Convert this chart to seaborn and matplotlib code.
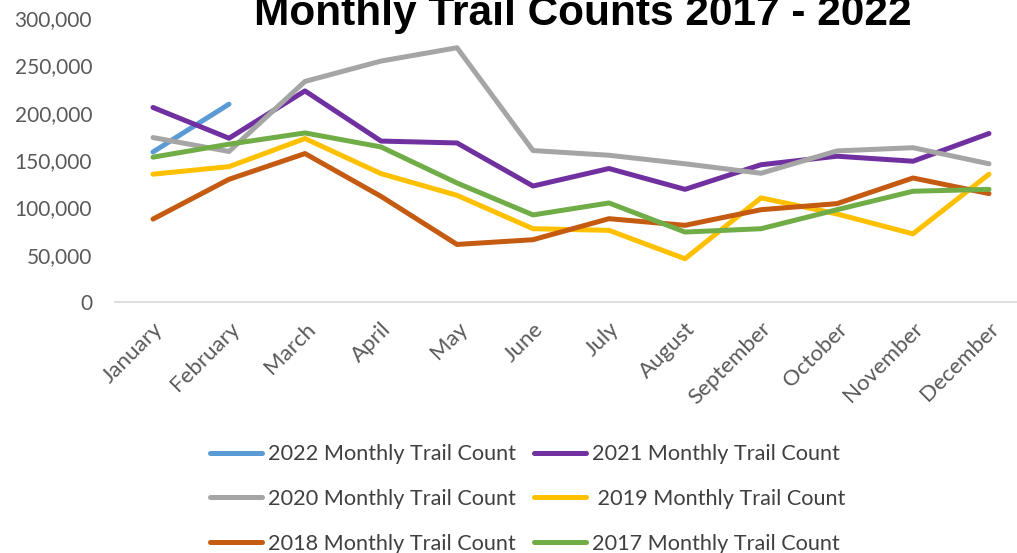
import pandas as pd
import seaborn as sns
import matplotlib.pyplot as plt
from matplotlib.ticker import FuncFormatter

# ------------ data ------------
months = ["January", "February", "March", "April", "May", "June", "July",
          "August", "September", "October", "November", "December"]

count_2022 = [158500, 209000]
count_2021 = [205500, 173000, 223000, 170000, 168000, 122500, 141000,
              119000, 145000, 154000, 148700, 178000]
count_2020 = [173700, 159000, 233000, 254500, 268600, 160000, 155000,
              146000, 136000, 159600, 163000, 146000]
count_2019 = [135000, 143000, 172700, 135600, 112700, 77400, 75700,
              45700, 110000, 93000, 72000, 135000]
count_2018 = [87600, 129600, 156800, 111600, 60800, 65800, 88000,
              81000, 97500, 103900, 131000, 114500]
count_2017 = [153000, 166700, 178600, 163800, 125700, 92000, 104600,
              73900, 77400, 97500, 117000, 119000]

series_names = ["2022 Monthly Trail Count", "2021 Monthly Trail Count",
                "2020 Monthly Trail Count", " 2019 Monthly Trail Count",
                "2018 Monthly Trail Count", "2017 Monthly Trail Count"]
series_values = [count_2022, count_2021, count_2020, count_2019, count_2018, count_2017]
colors = ["#5B9BD5", "#7030A0", "#A5A5A5", "#FFC000", "#C55A11", "#70AD47"]

rows = []
for name, vals in zip(series_names, series_values):
    for i, v in enumerate(vals):
        rows.append({"month": i, "count": v, "series": name})
df = pd.DataFrame(rows)

# ------------ plot ------------
sns.set_style("white")
plt.rcParams["font.family"] = ["Lato", "DejaVu Sans"]

fig = plt.figure(figsize=(10.17, 5.53), dpi=100)
ax = fig.add_axes([115 / 1017, 1 - 302 / 553, 912 / 1017, 284 / 553])

sns.lineplot(data=df, x="month", y="count", hue="series",
             palette=dict(zip(series_names, colors)), hue_order=series_names,
             linewidth=3.6, ax=ax, legend=True)

ax.set_xlim(-0.5, 11.5)
ax.set_ylim(0, 300000)
ax.set_yticks(range(0, 300001, 50000))
ax.yaxis.set_major_formatter(FuncFormatter(lambda v, p: f"{int(v):,}"))
ax.set_xticks(range(12))
ax.set_xticklabels(months, rotation=45, ha="right", rotation_mode="anchor")
ax.tick_params(axis="y", length=0, pad=16.5, labelsize=15, labelcolor="#595959")
ax.tick_params(axis="x", length=0, pad=12, labelsize=16, labelcolor="#595959")
ax.set_xlabel("")
ax.set_ylabel("")

for side in ["left", "right", "top"]:
    ax.spines[side].set_visible(False)
ax.spines["bottom"].set_color("#D9D9D9")
ax.spines["bottom"].set_linewidth(1.2)

# title is cropped at the top edge, as in the original
fig.text(583 / 1017, 1 - 25 / 553, "Monthly Trail Counts 2017 - 2022",
         ha="center", va="baseline", fontsize=30.5, fontweight="bold",
         family="Liberation Sans", color="black")

# legend: rows (2022, 2021), (2020, 2019), (2018, 2017)
handles, labels = ax.get_legend_handles_labels()
ax.get_legend().remove()
order = [0, 2, 4, 1, 3, 5]
fig.legend([handles[i] for i in order], [labels[i] for i in order],
           ncol=2, loc="center", bbox_to_anchor=(528 / 1017, 1 - 499 / 553),
           frameon=False, fontsize=15.6, labelcolor="#404040",
           handlelength=2.4, handletextpad=0.28, columnspacing=0.82,
           labelspacing=1.15)

fig.savefig("out.png", dpi=100)
